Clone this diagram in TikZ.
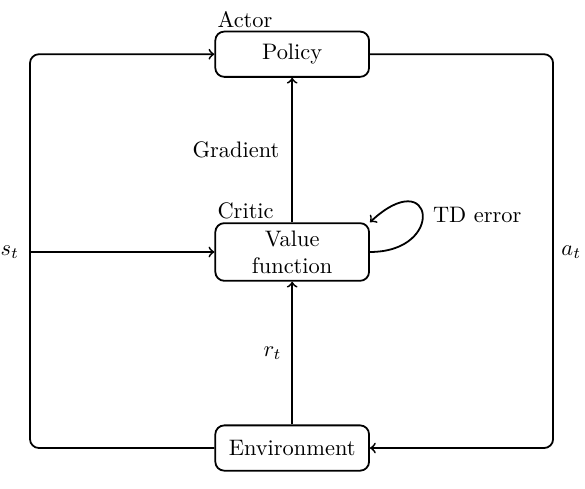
\documentclass[tikz,border=0pt]{standalone}
\begin{document}
\begin{tikzpicture}[thick, line join=round, >=to,
		box/.style={draw, rounded corners, minimum width=2.41cm, minimum height=0.71cm, align=center}]
	\useasboundingbox (0,0) rectangle (9.17,7.65);
	\node[box] (pol) at (4.58,6.80) {Policy};
	\node[box] (vf) at (4.58,3.70) {Value\\function};
	\node[box] (env) at (4.58,0.627) {Environment};
	\node[above right, inner sep=1pt] at (pol.north west) {Actor};
	\node[above right, inner sep=1pt] at (vf.north west) {Critic};
	\coordinate (l) at (0.47,3.70);
	\coordinate (r) at (8.67,3.70);
	% state and action
	\draw[->, rounded corners] (env.west) -| (l) |- (pol.west);
	\draw[->] (l) -- (vf.west);
	\draw[->, rounded corners] (pol.east) -| (r) |- (env.east);
	\node[left=1.2pt] at (l) {$s_t$};
	\node[right] at (r) {$a_t$};
	% critic
	\draw[->] (vf) -- node[left=2pt] {Gradient} (pol);
	\draw[->] (env) -- node[left=1pt] {$r_t$} (vf);
	\draw[->] (vf.east) .. controls (7.0,3.70) and (6.8,5.1) .. (vf.north east);
	\node (td) at (7.48,4.28) {TD error};
\end{tikzpicture}
\end{document}
